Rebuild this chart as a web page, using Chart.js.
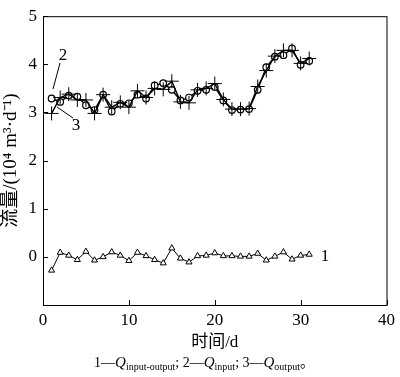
<!DOCTYPE html>
<html>
<head>
<meta charset="utf-8">
<script src="https://cdn.jsdelivr.net/npm/chart.js@4.4.0/dist/chart.umd.min.js"></script>
<style>
  html, body { margin: 0; padding: 0; background: #fff; }
  #wrap { width: 400px; height: 377px; }
</style>
</head>
<body>
<div id="wrap"><canvas id="flowChart" width="400" height="377"></canvas></div>
<script>
// Days and flows
const days = [1, 2, 3, 4, 5, 6, 7, 8, 9, 10, 11, 12, 13, 14, 15, 16,
              17, 18, 19, 20, 21, 22, 23, 24, 25, 26, 27, 28, 29, 30, 31];

// 2 - Q_input (circles)
const qInput = [3.29, 3.22, 3.35, 3.33, 3.15, 3.05, 3.37, 3.02, 3.18, 3.19, 3.37,
                3.29, 3.56, 3.61, 3.47, 3.25, 3.31, 3.45, 3.47, 3.53, 3.25,
                3.05, 3.06, 3.07, 3.47, 3.94, 4.16, 4.19, 4.33, 3.99, 4.07];

// 3 - Q_output (plus)
const qOutput = [2.98, 3.31, 3.38, 3.26, 3.26, 2.98, 3.37, 3.11, 3.21, 3.11, 3.45,
                 3.31, 3.50, 3.48, 3.65, 3.22, 3.20, 3.47, 3.50, 3.60, 3.27,
                 3.07, 3.07, 3.08, 3.54, 3.87, 4.17, 4.29, 4.29, 4.02, 4.12];

// 1 - Q_input-output (triangles)
const qDiff = [-0.28, 0.09, 0.03, -0.06, 0.11, -0.07, 0.00, 0.10, 0.03, -0.08, 0.09,
               0.02, -0.06, -0.13, 0.18, -0.03, -0.11, 0.02, 0.03, 0.08, 0.02,
               0.02, 0.01, 0.01, 0.07, -0.07, 0.01, 0.10, -0.05, 0.03, 0.05];

const xTicks = [0, 10, 20, 30, 40];
const yTicks = [0, 1, 2, 3, 4, 5];

const SERIF = '"Liberation Serif", "Times New Roman", serif';
const CJK = '"Liberation Serif", "Noto Sans CJK SC", serif';

function points(ys) {
    return days.map((d, i) => ({ x: d, y: ys[i] }));
}

// Frame, inward ticks, series labels and caption
const decorPlugin = {
    id: 'decor',
    afterDraw(chart) {
        const ctx = chart.ctx;
        const area = chart.chartArea;
        const xs = chart.scales.x;
        const ys = chart.scales.y;

        ctx.save();
        ctx.strokeStyle = '#000';
        ctx.lineWidth = 1;
        ctx.strokeRect(area.left + 0.5, area.top + 0.5, area.right - area.left, area.bottom - area.top);

        ctx.beginPath();
        xTicks.forEach(v => {
            const px = Math.round(xs.getPixelForValue(v)) + 0.5;
            ctx.moveTo(px, area.bottom);
            ctx.lineTo(px, area.bottom - 5);
        });
        yTicks.forEach(v => {
            const py = Math.round(ys.getPixelForValue(v)) + 0.5;
            ctx.moveTo(area.left, py);
            ctx.lineTo(area.left + 5, py);
        });
        ctx.stroke();

        // leader lines for labels 2 and 3
        ctx.beginPath();
        ctx.moveTo(60, 63);
        ctx.lineTo(53, 89);
        ctx.moveTo(57, 107);
        ctx.lineTo(73, 118);
        ctx.stroke();

        ctx.fillStyle = '#000';
        ctx.font = '17px ' + SERIF;
        ctx.textAlign = 'center';
        ctx.textBaseline = 'middle';
        ctx.fillText('2', 63, 56);
        ctx.fillText('3', 76, 126);
        ctx.fillText('1', 325, 257);

        // caption: 1—Q_input-output; 2—Q_input; 3—Q_output。
        const parts = [
            ['1—', 'n'], ['Q', 'i'], ['input-output', 's'], ['; 2—', 'n'],
            ['Q', 'i'], ['input', 's'], ['; 3—', 'n'], ['Q', 'i'], ['output', 's'], ['。', 'n']
        ];
        const fonts = {
            n: '14px ' + CJK,
            i: 'italic 15px ' + SERIF,
            s: '10px ' + SERIF
        };
        let total = 0;
        parts.forEach(p => { ctx.font = fonts[p[1]]; total += ctx.measureText(p[0]).width; });
        let cx = 204 - total / 2;
        ctx.textAlign = 'left';
        ctx.textBaseline = 'alphabetic';
        parts.forEach(p => {
            ctx.font = fonts[p[1]];
            ctx.fillText(p[0], cx, p[1] === 's' ? 370 : 367);
            cx += ctx.measureText(p[0]).width;
        });
        ctx.restore();
    }
};

const ctx = document.getElementById('flowChart').getContext('2d');
new Chart(ctx, {
    type: 'scatter',
    data: {
        datasets: [
            {
                label: 'Q output',
                data: points(qOutput),
                showLine: true,
                borderColor: '#000',
                borderWidth: 1.4,
                pointStyle: 'cross',
                pointRadius: 7,
                pointBorderWidth: 1,
                pointBorderColor: '#000',
                pointBackgroundColor: '#000'
            },
            {
                label: 'Q input',
                data: points(qInput),
                showLine: true,
                borderColor: '#000',
                borderWidth: 1.4,
                pointStyle: 'circle',
                pointRadius: 3.3,
                pointBorderWidth: 1.2,
                pointBorderColor: '#000',
                pointBackgroundColor: '#fff'
            },
            {
                label: 'Q input-output',
                data: points(qDiff),
                showLine: true,
                borderColor: '#000',
                borderWidth: 1,
                pointStyle: 'triangle',
                pointRadius: 3.5,
                pointBorderWidth: 1,
                pointBorderColor: '#000',
                pointBackgroundColor: '#fff'
            }
        ]
    },
    options: {
        responsive: false,
        animation: false,
        events: [],
        layout: {
            padding: { top: 7, right: 7, left: 0, bottom: 24 }
        },
        plugins: {
            legend: { display: false },
            tooltip: { enabled: false }
        },
        scales: {
            x: {
                type: 'linear',
                min: 0,
                max: 40,
                afterFit: scale => { scale.height = 48; },
                afterBuildTicks: scale => { scale.ticks = xTicks.map(v => ({ value: v })); },
                grid: { display: false, drawTicks: false },
                border: { display: false },
                ticks: {
                    color: '#000',
                    padding: 5,
                    font: { family: SERIF, size: 17 }
                },
                title: {
                    display: true,
                    text: '时间/d',
                    color: '#000',
                    padding: { top: 2, bottom: 0 },
                    font: { family: CJK, size: 17 }
                }
            },
            y: {
                type: 'linear',
                min: -1,
                max: 5,
                afterFit: scale => { scale.width = 43; },
                afterBuildTicks: scale => { scale.ticks = yTicks.map(v => ({ value: v })); },
                grid: { display: false, drawTicks: false },
                border: { display: false },
                ticks: {
                    color: '#000',
                    padding: 6,
                    font: { family: SERIF, size: 17 }
                },
                title: {
                    display: true,
                    text: '流量/(10⁴ m³·d⁻¹)',
                    color: '#000',
                    padding: { top: 0, bottom: 2 },
                    font: { family: CJK, size: 19 }
                }
            }
        }
    },
    plugins: [decorPlugin]
});
</script>
</body>
</html>
